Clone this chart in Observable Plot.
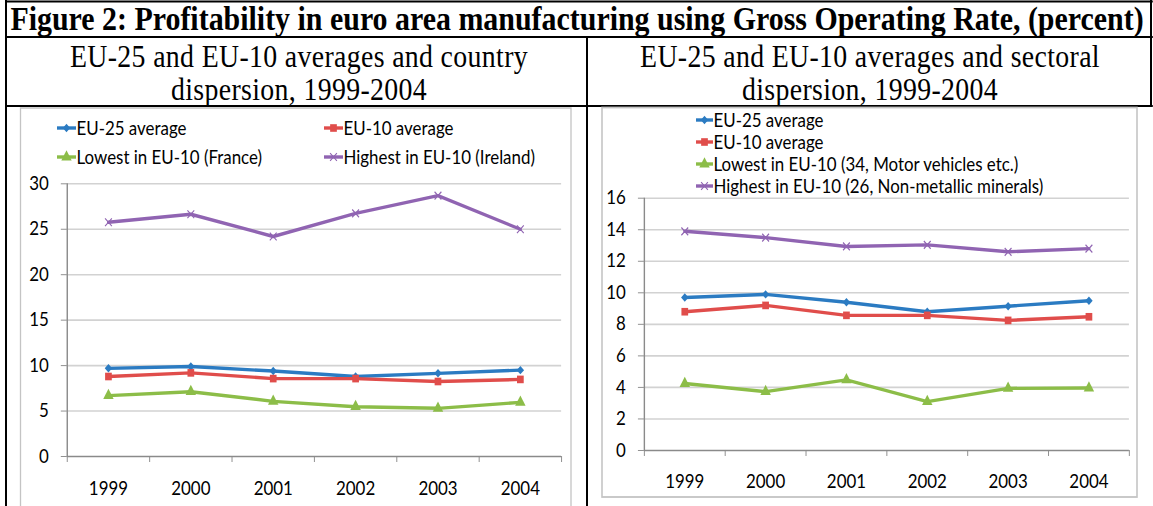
<!DOCTYPE html>
<html><head><meta charset="utf-8">
<script src="https://cdn.jsdelivr.net/npm/d3@7"></script>
<script src="https://cdn.jsdelivr.net/npm/@observablehq/plot@0.6"></script>
<style>
html,body{margin:0;padding:0;background:#fff;overflow:hidden;width:1153px;height:506px}
#wrap{position:absolute;left:0;top:0;width:1311px;height:506px;transform:scaleX(0.88);transform-origin:0 0}
.abs{position:absolute}
</style></head><body><div id="wrap"></div>
<script>
// ---- data ----
const years = [1999, 2000, 2001, 2002, 2003, 2004];
const eu25 = [9.7, 9.9, 9.4, 8.8, 9.15, 9.5];
const eu10 = [8.8, 9.2, 8.57, 8.57, 8.25, 8.48];
const countryLow = [6.7, 7.13, 6.07, 5.48, 5.3, 5.95];
const countryHigh = [25.77, 26.65, 24.2, 26.75, 28.7, 25.0];
const sectorLow = [4.25, 3.73, 4.48, 3.1, 3.94, 3.96];
const sectorHigh = [13.9, 13.5, 12.94, 13.04, 12.6, 12.8];
const leftTicks = [0, 5, 10, 15, 20, 25, 30];
const rightTicks = [0, 2, 4, 6, 8, 10, 12, 14, 16];
const leftNames = ["EU-25 average", "EU-10 average", "Lowest in EU-10 (France)", "Highest in EU-10 (Ireland)"];
const rightNames = ["EU-25 average", "EU-10 average", "Lowest in EU-10 (34, Motor vehicles etc.)", "Highest in EU-10 (26, Non-metallic minerals)"];
const titleText = "Figure 2: Profitability in euro area manufacturing using Gross Operating Rate, (percent)";
const leftSub = ["EU-25 and EU-10 averages and country", "dispersion, 1999-2004"];
const rightSub = ["EU-25 and EU-10 averages and sectoral", "dispersion, 1999-2004"];

const colors = ["#2b7bc2", "#e04d4b", "#8cbd48", "#9064b2"];
const symbols = ["diamond2", "square", "triangle", "times"];
const radii = [3.8, 4.3, 4.4, 3.6];

const s = 0.88; // horizontal compression of the whole figure
const X = v => v / s;
const FS = 19.2;
const wrap = document.getElementById("wrap");

// ---- background: borders, headings, frames, legends ----
const bg = d3.select(wrap).append("svg").attr("class", "abs")
  .attr("width", X(1153)).attr("height", 506).style("left", 0).style("top", 0);
function hline(x1, x2, y, w) { bg.append("line").attr("x1", X(x1)).attr("x2", X(x2)).attr("y1", y).attr("y2", y).attr("stroke", "#000").attr("stroke-width", w); }
function vline(x, y1, y2, w) { bg.append("line").attr("x1", X(x)).attr("x2", X(x)).attr("y1", y1).attr("y2", y2).attr("stroke", "#000").attr("stroke-width", X(w)); }
hline(5, 1153, 1.5, 2);
hline(5, 1153, 37, 2);
hline(5, 1153, 106, 2);
vline(6, 0, 506, 2);
vline(587, 37, 506, 2);
vline(1151, 0, 106, 2);

bg.append("text").attr("x", X(577)).attr("y", 30).attr("text-anchor", "middle")
  .attr("font-family", "Liberation Serif, Times New Roman, serif").attr("font-weight", "bold").attr("font-size", 34)
  .text(titleText);
[[leftSub, 299], [rightSub, 870]].forEach(([lines, cx]) => {
  lines.forEach((t, i) => bg.append("text").attr("x", X(cx)).attr("y", 67 + i * 33).attr("text-anchor", "middle")
    .attr("font-family", "Liberation Serif, Times New Roman, serif").attr("font-size", 31.6)
    .attr("letter-spacing", 0.4).text(t));
});

// chart frames
bg.append("rect").attr("x", X(20.5)).attr("y", 108).attr("width", X(571 - 20.5)).attr("height", 420)
  .attr("fill", "none").attr("stroke", "#c4c4c4").attr("stroke-width", 1.5);
bg.append("rect").attr("x", X(602)).attr("y", 107.5).attr("width", X(1137 - 602)).attr("height", 497 - 107.5)
  .attr("fill", "none").attr("stroke", "#c4c4c4").attr("stroke-width", 1.8);

function legendItem(i, name, x0, x1, y) {
  const g = bg.append("g");
  g.append("line").attr("x1", X(x0)).attr("x2", X(x1)).attr("y1", y).attr("y2", y)
    .attr("stroke", colors[i]).attr("stroke-width", 3.4);
  const sym = {diamond2: d3.symbolDiamond2, square: d3.symbolSquare, triangle: d3.symbolTriangle, times: d3.symbolTimes}[symbols[i]];
  const p = g.append("path").attr("transform", `translate(${X((x0 + x1) / 2)},${y})`)
    .attr("d", d3.symbol(sym, Math.PI * radii[i] * radii[i])());
  if (symbols[i] === "times") p.attr("fill", "none").attr("stroke", colors[i]).attr("stroke-width", 1.3);
  else p.attr("fill", colors[i]);
  g.append("text").attr("x", X(x1 + 0.5)).attr("y", y).attr("dy", "0.36em")
    .attr("font-family", "Lato, sans-serif").attr("font-size", FS).text(name);
}
legendItem(0, leftNames[0], 57, 76, 128);
legendItem(1, leftNames[1], 324, 343, 128);
legendItem(2, leftNames[2], 57, 76, 157);
legendItem(3, leftNames[3], 324, 343, 157);
rightNames.forEach((n, i) => legendItem(i, n, 696, 713, 120 + i * 22));

// ---- charts ----
function makeChart(o) {
  const series = o.values.map((v, i) => ({name: o.names[i], values: v, color: colors[i], symbol: symbols[i], r: radii[i]}));
  const bounds = years.map(y => y - 0.5).concat([years[years.length - 1] + 0.5]);
  const gray = "#8a8a8a";
  const marks = [
    Plot.ruleY(o.ticks.filter(t => t > 0), {stroke: "#d2d2d2", strokeWidth: 1.6}),
    Plot.axisY(o.ticks, {tickSize: X(6), tickPadding: X(12.5), stroke: gray, fill: "#000", label: null, tickFormat: d => String(d)}),
    Plot.ruleY([0], {stroke: gray, strokeWidth: 1.3}),
    Plot.ruleX([bounds[0]], {stroke: gray, strokeWidth: 1.6}),
    Plot.axisX(bounds, {tickSize: 6, stroke: gray, tickFormat: () => "", label: null}),
    Plot.axisX(years, {tickSize: 0, tickPadding: o.labelPad, fill: "#000", tickFormat: d => String(d), label: null})
  ];
  series.forEach(sr => {
    const d = years.map((yr, i) => ({year: yr, value: sr.values[i]}));
    marks.push(Plot.line(d, {x: "year", y: "value", stroke: sr.color, strokeWidth: 3.4}));
    if (sr.symbol === "times") marks.push(Plot.dot(d, {x: "year", y: "value", symbol: "times", r: sr.r, stroke: sr.color, strokeWidth: 1.3}));
    else marks.push(Plot.dot(d, {x: "year", y: "value", symbol: sr.symbol, r: sr.r, fill: sr.color, stroke: "none"}));
  });
  const svg = Plot.plot({
    width: X(o.w), height: o.h,
    marginLeft: X(o.ml), marginRight: X(o.mr), marginTop: o.mt, marginBottom: o.mb,
    x: {domain: [bounds[0], bounds[bounds.length - 1]]},
    y: {domain: [0, o.ticks[o.ticks.length - 1]]},
    style: {fontFamily: "Lato, sans-serif", fontSize: FS + "px", background: "transparent", color: "#000", overflow: "visible"},
    marks
  });
  svg.classList.add("abs");
  svg.style.left = X(o.left) + "px";
  svg.style.top = o.top + "px";
  wrap.appendChild(svg);
}
makeChart({values: [eu25, eu10, countryLow, countryHigh], names: leftNames, ticks: leftTicks,
  left: 21, top: 108, w: 550, h: 398, ml: 45.7, mr: 10, mt: 75.3, mb: 50, labelPad: 25});
makeChart({values: [eu25, eu10, sectorLow, sectorHigh], names: rightNames, ticks: rightTicks,
  left: 602, top: 108, w: 535, h: 389, ml: 42, mr: 8, mt: 89.7, mb: 47, labelPad: 24});
</script></body></html>
